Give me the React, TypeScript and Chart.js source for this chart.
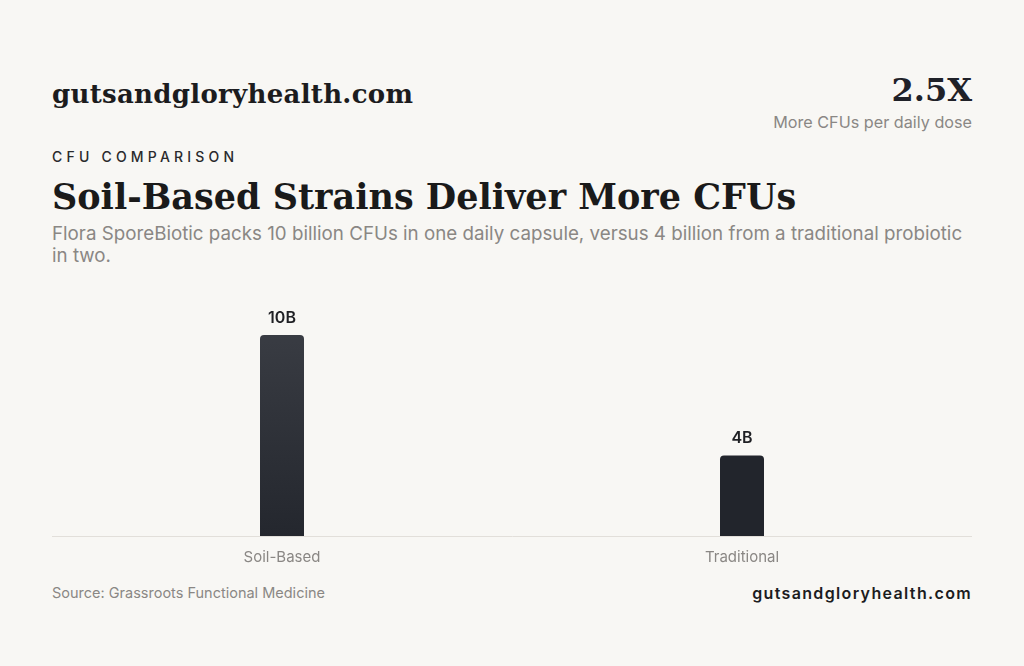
import React, { useEffect, useRef } from 'react';
import { Chart, registerables } from 'chart.js';

Chart.register(...registerables);

const categories = ['Soil-Based', 'Traditional'];
const cfuBillions = [10, 4];
const valueLabels = ['10B', '4B'];

const SERIF = "'DejaVu Serif', 'Liberation Serif', serif";
const SANS = "Inter, 'Noto Sans', sans-serif";

// draws the "10B" / "4B" labels above each bar
const valueLabelPlugin = {
  id: 'valueLabels',
  afterDatasetsDraw(chart: Chart) {
    const { ctx } = chart;
    const meta = chart.getDatasetMeta(0);
    ctx.save();
    ctx.font = `600 16px ${SANS}`;
    ctx.fillStyle = '#1f2024';
    ctx.textAlign = 'center';
    ctx.textBaseline = 'bottom';
    meta.data.forEach((bar: any, i: number) => {
      ctx.fillText(valueLabels[i], bar.x, bar.y - 9);
    });
    ctx.restore();
  },
};

const CfuChart: React.FC = () => {
  const canvasRef = useRef<HTMLCanvasElement>(null);
  const chartRef = useRef<Chart | null>(null);

  useEffect(() => {
    if (!canvasRef.current) return;
    if (chartRef.current) chartRef.current.destroy();

    chartRef.current = new Chart(canvasRef.current, {
      type: 'bar',
      data: {
        labels: categories,
        datasets: [
          {
            data: cfuBillions,
            backgroundColor: (c: any) => {
              const area = c.chart.chartArea;
              if (!area) return '#2a2d34';
              if (c.dataIndex === 0) {
                const g = c.chart.ctx.createLinearGradient(0, area.top, 0, area.bottom);
                g.addColorStop(0, '#3c3f46');
                g.addColorStop(1, '#24272e');
                return g;
              }
              return '#22252c';
            },
            borderRadius: { topLeft: 4, topRight: 4, bottomLeft: 0, bottomRight: 0 },
            borderSkipped: false,
            maxBarThickness: 44,
            barPercentage: 0.5,
            categoryPercentage: 1,
          },
        ],
      },
      options: {
        responsive: true,
        maintainAspectRatio: false,
        animation: false,
        layout: { padding: 0 },
        plugins: {
          legend: { display: false },
          title: { display: false },
          tooltip: { enabled: false },
        },
        scales: {
          x: {
            grid: { display: false, drawTicks: false },
            border: { display: true, color: '#e2dfda', width: 1 },
            ticks: {
              color: '#8a8784',
              font: { family: SANS, size: 15 },
              padding: 12,
            },
          },
          y: {
            display: false,
            min: 0,
            max: 11.64,
          },
        },
      },
      plugins: [valueLabelPlugin],
    });

    return () => {
      if (chartRef.current) {
        chartRef.current.destroy();
        chartRef.current = null;
      }
    };
  }, []);

  return (
    <div style={{ position: 'absolute', left: 52, top: 302, width: 920, height: 276 }}>
      <canvas ref={canvasRef}></canvas>
    </div>
  );
};

const App: React.FC = () => {
  return (
    <div
      style={{
        position: 'fixed',
        left: 0,
        top: 0,
        width: 1024,
        height: 666,
        background: '#f8f7f4',
        overflow: 'hidden',
      }}
    >
      <div
        style={{
          position: 'absolute',
          left: 52,
          top: 77,
          fontFamily: SERIF,
          fontWeight: 700,
          fontSize: 26,
          letterSpacing: 0.3,
          color: '#1c1c1e',
          lineHeight: '34px',
        }}
      >
        gutsandgloryhealth.com
      </div>
      <div
        style={{
          position: 'absolute',
          right: 52,
          top: 69,
          fontFamily: SERIF,
          fontWeight: 700,
          fontSize: 32,
          color: '#1f2128',
          lineHeight: '42px',
          textAlign: 'right',
        }}
      >
        2.5X
      </div>
      <div
        style={{
          position: 'absolute',
          right: 52,
          top: 112,
          fontFamily: SANS,
          fontSize: 16.2,
          color: '#8a8784',
          lineHeight: '20px',
        }}
      >
        More CFUs per daily dose
      </div>
      <div
        style={{
          position: 'absolute',
          left: 52,
          top: 148,
          fontFamily: SANS,
          fontWeight: 500,
          fontSize: 14,
          letterSpacing: 4.2,
          color: '#2a2a2c',
          lineHeight: '18px',
        }}
      >
        CFU COMPARISON
      </div>
      <div
        style={{
          position: 'absolute',
          left: 52,
          top: 173,
          fontFamily: SERIF,
          fontWeight: 700,
          fontSize: 35,
          color: '#1a1a1a',
          lineHeight: '48px',
          whiteSpace: 'nowrap',
        }}
      >
        Soil-Based Strains Deliver More CFUs
      </div>
      <div
        style={{
          position: 'absolute',
          left: 52,
          top: 223,
          width: 920,
          fontFamily: SANS,
          fontSize: 18.75,
          color: '#8a8784',
          lineHeight: '22px',
        }}
      >
        Flora SporeBiotic packs 10 billion CFUs in one daily capsule, versus 4 billion from a traditional probiotic in two.
      </div>

      <CfuChart />

      <div
        style={{
          position: 'absolute',
          left: 52,
          top: 584,
          fontFamily: SANS,
          fontSize: 14.5,
          color: '#8a8784',
          lineHeight: '18px',
        }}
      >
        Source: Grassroots Functional Medicine
      </div>
      <div
        style={{
          position: 'absolute',
          right: 52,
          top: 583,
          fontFamily: SANS,
          fontWeight: 600,
          fontSize: 16,
          letterSpacing: 1.35,
          color: '#1c1c1e',
          lineHeight: '20px',
        }}
      >
        gutsandgloryhealth.com
      </div>
    </div>
  );
};

export default App;
